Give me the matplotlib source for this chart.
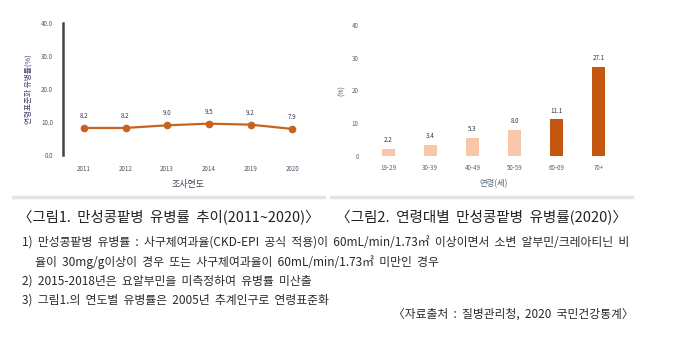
import matplotlib
matplotlib.use("Agg")
import matplotlib.pyplot as plt
from matplotlib.lines import Line2D

plt.rcParams['font.family'] = ['Noto Sans CJK KR', 'DejaVu Sans']

# figure 1: trend by year
years = ['2011', '2012', '2013', '2014', '2019', '2020']
trend = [8.2, 8.2, 9.0, 9.5, 9.2, 7.9]

# figure 2: by age group, 2020
ages = ['19-29', '30-39', '40-49', '50-59', '60-69', '70+']
rate = [2.2, 3.4, 5.3, 8.0, 11.1, 27.1]
light = '#F8C6A8'
dark = '#C4570F'
bar_colors = [light, light, light, light, dark, dark]

captions = ['〈그림1.  만성콩팥병  유병률  추이(2011~2020)〉',
            '〈그림2.  연령대별  만성콩팥병  유병률(2020)〉']
notes = ['1)  만성콩팥병  유병률  :  사구체여과율(CKD-EPI  공식  적용)이  60mL/min/1.73㎡  이상이면서  소변  알부민/크레아티닌  비',
         '     율이  30mg/g이상이  경우  또는  사구체여과율이  60mL/min/1.73㎡  미만인  경우',
         '2)  2015-2018년은  요알부민을  미측정하여  유병률  미산출',
         '3)  그림1.의  연도별  유병률은  2005년  추계인구로  연령표준화']
source = '〈자료출처  :  질병관리청,  2020  국민건강통계〉'

W, H = 680, 340
fig = plt.figure(figsize=(6.8, 3.4), dpi=100)

# ---- left chart
ax1 = fig.add_axes([63 / W, 1 - 155 / H, 250 / W, 132 / H])
x = range(len(years))
ax1.plot(x, trend, color='#C5631F', lw=1.6, marker='o', ms=4.5)
for i, v in enumerate(trend):
    ax1.text(i, v + 2.4, '%.1f' % v, ha='center', va='bottom', fontsize=4.5, color='#3A3A5A')
ax1.set_xlim(-0.5, len(years) - 0.5)
ax1.set_ylim(0, 40)
ax1.set_yticks([0, 10, 20, 30, 40])
ax1.set_yticklabels(['0.0', '10.0', '20.0', '30.0', '40.0'])
ax1.set_xticks(list(x))
ax1.set_xticklabels(years)
ax1.tick_params(length=0, labelsize=4.5, colors='#555566', pad=7)
for s in ['top', 'right', 'bottom']:
    ax1.spines[s].set_visible(False)
ax1.spines['left'].set_color('#444444')
ax1.spines['left'].set_linewidth(1.8)
ax1.set_xlabel('조사연도', fontsize=6.5, color='#444455', labelpad=5)
ax1.set_ylabel('연령표준화 유병률(%)', fontsize=5.5, color='#4B3A6A', labelpad=6)

# ---- right chart
ax2 = fig.add_axes([367 / W, 1 - 155.7 / H, 253 / W, 130.7 / H])
x2 = range(len(ages))
ax2.bar(x2, rate, width=0.31, color=bar_colors)
for i, v in enumerate(rate):
    ax2.text(i, v + 1.5, '%.1f' % v, ha='center', va='bottom', fontsize=4.5, color='#33334A')
ax2.set_xlim(-0.5, len(ages) - 0.5)
ax2.set_ylim(0, 40)
ax2.set_yticks([0, 10, 20, 30, 40])
ax2.set_xticks(list(x2))
ax2.set_xticklabels(ages)
ax2.tick_params(length=0, labelsize=4.5, colors='#556677', pad=6)
for s in ax2.spines.values():
    s.set_visible(False)
ax2.set_xlabel('연령(세)', fontsize=6, color='#556677', labelpad=5)
ax2.set_ylabel('(%)', fontsize=5, color='#555566', labelpad=4)

# separator lines under the charts
fig.add_artist(Line2D([13 / W, 324 / W], [1 - 197 / H] * 2, color='#E4E4E4', lw=2.5))
fig.add_artist(Line2D([331 / W, 632 / W], [1 - 197 / H] * 2, color='#E4E4E4', lw=2.5))

# captions and notes
fig.text(18 / W, 1 - 218 / H, captions[0], fontsize=10.4, color='#222222', va='center')
fig.text(336 / W, 1 - 218 / H, captions[1], fontsize=10.5, color='#222222', va='center')
ys = [243, 262, 281, 300]
for yy, t in zip(ys, notes):
    fig.text(22 / W, 1 - yy / H, t, fontsize=8.55, color='#2A2A2A', va='center')
fig.text(634 / W, 1 - 314 / H, source, fontsize=8.5, color='#2A2A2A', va='center', ha='right')

fig.savefig('out.png', dpi=100)
